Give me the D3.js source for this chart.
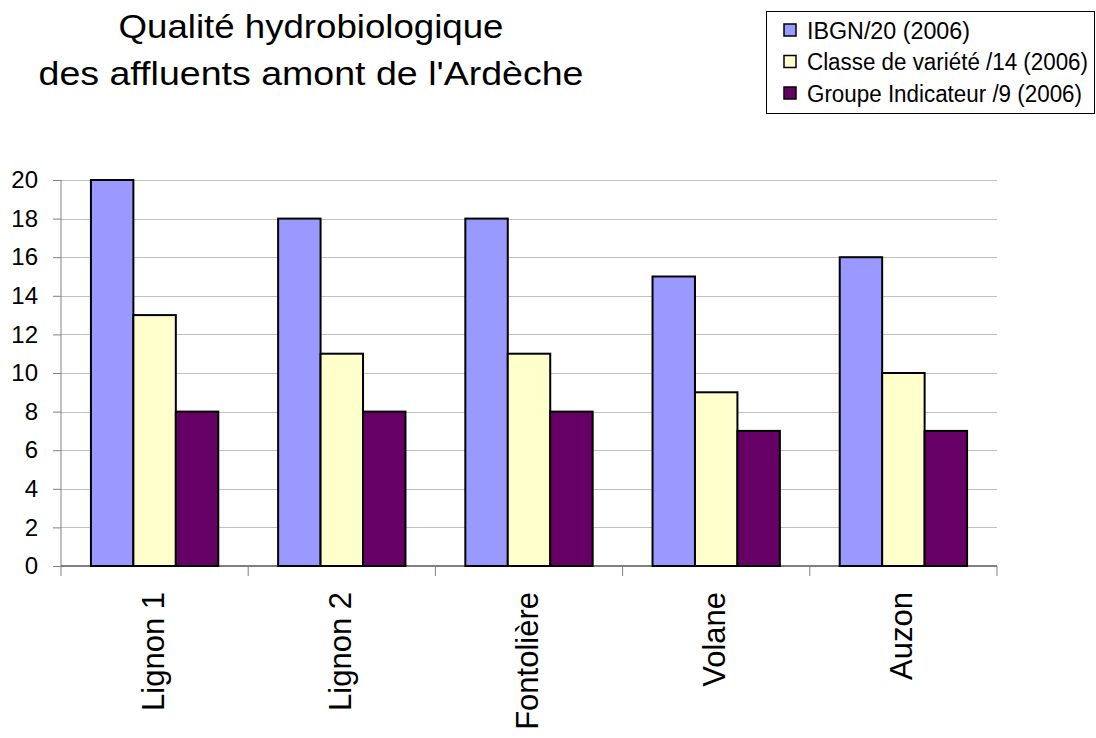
<!DOCTYPE html>
<html>
<head>
<meta charset="utf-8">
<script src="https://cdn.jsdelivr.net/npm/d3@7"></script>
<style>
  body { margin: 0; background: #fff; }
  text { font-family: "Liberation Sans", Arial, sans-serif; }
</style>
</head>
<body>
<svg width="1096" height="738"></svg>
<script>
const categories = ["Lignon 1", "Lignon 2", "Fontolière", "Volane", "Auzon"];
const seriesNames = ["IBGN/20 (2006)", "Classe de variété /14 (2006)", "Groupe Indicateur /9 (2006)"];
const ibgn = [20, 18, 18, 15, 16];
const classeVariete = [13, 11, 11, 9, 10];
const groupeIndicateur = [8, 8, 8, 7, 7];
const yTicks = [0, 2, 4, 6, 8, 10, 12, 14, 16, 18, 20];
const colors = ["#9999FF", "#FFFFCC", "#660066"];

const series = [ibgn, classeVariete, groupeIndicateur];
const data = categories.map((c, i) => ({cat: c, values: series.map(s => s[i])}));

let svg = d3.select("svg");

const plot = {left: 61, right: 997, top: 180, bottom: 566};

let x0 = d3.scaleBand().domain(categories).range([plot.left, plot.right]).padding(0);
let x1 = d3.scaleBand().domain(d3.range(series.length))
    .range([0, x0.bandwidth()]).paddingInner(0).paddingOuter(0.705);
let y = d3.scaleLinear().domain([0, 20]).range([plot.bottom, plot.top]);

// title
let title = svg.append("text").attr("text-anchor", "middle").attr("font-size", 34).attr("fill", "#000");
title.append("tspan").attr("x", 311).attr("y", 38).attr("textLength", 385).attr("lengthAdjust", "spacingAndGlyphs")
    .text("Qualité hydrobiologique");
title.append("tspan").attr("x", 311).attr("y", 85).attr("textLength", 545).attr("lengthAdjust", "spacingAndGlyphs")
    .text("des affluents amont de l'Ardèche");

// gridlines
svg.append("g").selectAll("line")
    .data(yTicks.filter(d => d > 0)).enter()
    .append("line")
    .attr("x1", plot.left).attr("x2", plot.right)
    .attr("y1", d => Math.round(y(d)) + 0.5).attr("y2", d => Math.round(y(d)) + 0.5)
    .attr("stroke", "#c0c0c0").attr("stroke-width", 1);

// bars
let groups = svg.append("g").selectAll("g")
    .data(data).enter()
    .append("g")
    .attr("transform", d => "translate(" + x0(d.cat) + ",0)");

groups.selectAll("rect")
    .data(d => d.values).enter()
    .append("rect")
    .attr("x", (d, i) => x1(i))
    .attr("y", d => y(d))
    .attr("width", x1.bandwidth())
    .attr("height", d => y(0) - y(d))
    .attr("fill", (d, i) => colors[i])
    .attr("stroke", "#000")
    .attr("stroke-width", 2);

// y axis
let yAxis = svg.append("g")
    .attr("transform", "translate(" + plot.left + ",0)")
    .call(d3.axisLeft(y).tickValues(yTicks).tickSize(8).tickPadding(15).tickFormat(d3.format("d")));
yAxis.selectAll("text").attr("font-size", 24).attr("fill", "#000")
    .style("font-family", "'Liberation Sans', Arial, sans-serif");
yAxis.selectAll("line").attr("stroke", "#808080");
yAxis.select(".domain").attr("stroke", "#808080").attr("d", "M0," + plot.top + "V" + plot.bottom);

// x axis
let xAxis = svg.append("g").attr("transform", "translate(0," + plot.bottom + ")");
xAxis.append("line").attr("x1", plot.left).attr("x2", plot.right)
    .attr("stroke", "#000").attr("stroke-width", 1);
xAxis.selectAll(".tick")
    .data(categories.map(c => x0(c)).concat([plot.right])).enter()
    .append("line")
    .attr("x1", d => d).attr("x2", d => d)
    .attr("y1", 0).attr("y2", 10)
    .attr("stroke", "#808080");
xAxis.selectAll(".lbl")
    .data(categories).enter()
    .append("text")
    .attr("transform", d => "translate(" + (x0(d) + x0.bandwidth() / 2 + 9) + ",26) rotate(-90)")
    .attr("text-anchor", "end")
    .attr("font-size", 31)
    .attr("fill", "#000")
    .text(d => d);

// legend
let legend = svg.append("g");
legend.append("rect")
    .attr("x", 766.5).attr("y", 11.5).attr("width", 328).attr("height", 102)
    .attr("fill", "#fff").attr("stroke", "#000").attr("stroke-width", 1);
const legendLen = [163, 281, 275];
let items = legend.selectAll(".item")
    .data(seriesNames).enter()
    .append("g")
    .attr("transform", (d, i) => "translate(0," + (30 + i * 31.5) + ")");
items.append("rect")
    .attr("x", 784).attr("y", -6).attr("width", 12).attr("height", 12)
    .attr("fill", (d, i) => colors[i]).attr("stroke", "#000").attr("stroke-width", 1.5);
items.append("text")
    .attr("x", 807).attr("y", 8.5)
    .attr("font-size", 23)
    .attr("textLength", (d, i) => legendLen[i])
    .attr("lengthAdjust", "spacingAndGlyphs")
    .attr("fill", "#000")
    .text(d => d);
</script>
</body>
</html>
